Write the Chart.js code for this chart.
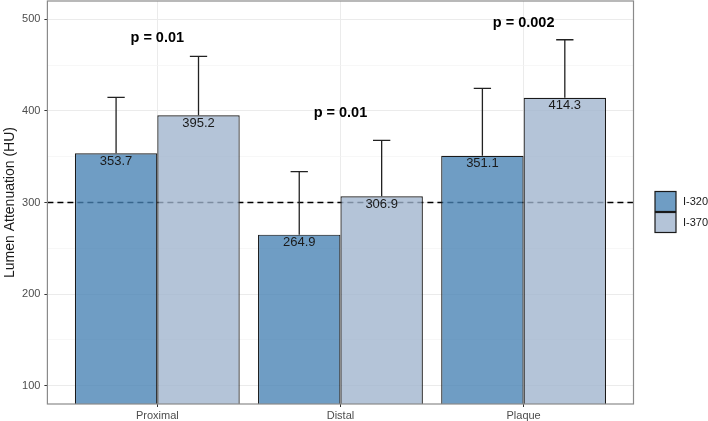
<!DOCTYPE html>
<html>
<head>
<meta charset="utf-8">
<script src="https://cdn.jsdelivr.net/npm/chart.js@4.4.1/dist/chart.umd.min.js"></script>
<style>
  html, body { margin: 0; padding: 0; background: #fff; }
  #chart { display: block; }
</style>
</head>
<body>
<canvas id="chart" width="708" height="421"></canvas>
<script>
const regions = ['Proximal', 'Distal', 'Plaque'];
const groups = ['I-320', 'I-370'];
const meanI320 = [353.7, 264.9, 351.1];
const meanI370 = [395.2, 306.9, 414.3];
const sdI320 = [61.1, 68.9, 73.5];
const sdI370 = [64.3, 60.9, 63.4];
const pLabels = ['p = 0.01', 'p = 0.01', 'p = 0.002'];
const pHeights = [480, 398, 496];
const yMajorTicks = [100, 200, 300, 400, 500];
const yMinorTicks = [150, 250, 350, 450];
const refLine = 300;

const FONT = '"Liberation Sans", Arial, sans-serif';
const fills = ['rgba(70, 130, 180, 0.78)', 'rgba(159, 179, 205, 0.78)'];
const series = [
  { label: groups[0], means: meanI320, sds: sdI320 },
  { label: groups[1], means: meanI370, sds: sdI370 },
];

const isMajor = ctx => ctx.tick && yMajorTicks.includes(ctx.tick.value);

const extras = {
  id: 'extras',
  beforeDatasetsDraw(chart) {
    const { ctx, chartArea: a, scales: { y } } = chart;
    const py = y.getPixelForValue(refLine);
    ctx.save();
    ctx.beginPath();
    ctx.setLineDash([6, 4]);
    ctx.strokeStyle = '#000';
    ctx.lineWidth = 1.4;
    ctx.moveTo(a.left, py);
    ctx.lineTo(a.right, py);
    ctx.stroke();
    ctx.restore();
  },
  afterDatasetsDraw(chart) {
    const { ctx, scales: { x, y } } = chart;
    ctx.save();
    chart.data.datasets.forEach((ds, i) => {
      chart.getDatasetMeta(i).data.forEach((bar, j) => {
        const mean = ds.data[j].y;
        const top = y.getPixelForValue(mean + ds.sd[j]);
        const half = bar.width * 0.105;
        ctx.strokeStyle = '#222';
        ctx.lineWidth = 1.3;
        ctx.beginPath();
        ctx.moveTo(bar.x, y.getPixelForValue(mean));
        ctx.lineTo(bar.x, top);
        ctx.moveTo(bar.x - half, top);
        ctx.lineTo(bar.x + half, top);
        ctx.stroke();

        ctx.fillStyle = '#1a1a1a';
        ctx.font = '13px ' + FONT;
        ctx.textAlign = 'center';
        ctx.textBaseline = 'middle';
        ctx.fillText(mean.toFixed(1), bar.x, y.getPixelForValue(mean) + 8);
      });
    });
    ctx.font = 'bold 14.5px ' + FONT;
    ctx.fillStyle = '#000';
    pLabels.forEach((txt, j) => {
      ctx.fillText(txt, x.getPixelForValue(j + 1), y.getPixelForValue(pHeights[j]));
    });
    ctx.restore();
  },
  afterDraw(chart) {
    const { ctx, chartArea: a } = chart;
    ctx.save();
    ctx.strokeStyle = '#8a8a8a';
    ctx.lineWidth = 1.2;
    ctx.strokeRect(a.left, a.top, a.right - a.left, a.bottom - a.top);

    const boxW = 21, boxH = 20;
    const left = a.right + 21.5;
    let top = chart.height / 2 - 19;
    ctx.font = '11px ' + FONT;
    ctx.textAlign = 'left';
    ctx.textBaseline = 'middle';
    groups.forEach((g, i) => {
      ctx.fillStyle = '#fff';
      ctx.fillRect(left, top, boxW, boxH);
      ctx.fillStyle = fills[i];
      ctx.fillRect(left, top, boxW, boxH);
      ctx.strokeStyle = '#1a1a1a';
      ctx.lineWidth = 1.2;
      ctx.strokeRect(left, top, boxW, boxH);
      ctx.fillStyle = '#1a1a1a';
      ctx.fillText(g, left + boxW + 7, top + boxH / 2);
      top += boxH + 1;
    });
    ctx.restore();
  },
};

Chart.defaults.font.family = FONT;

new Chart(document.getElementById('chart'), {
  type: 'bar',
  data: {
    datasets: series.map((s, i) => ({
      label: s.label,
      data: s.means.map((v, j) => ({ x: j + 1, y: v })),
      sd: s.sds,
      backgroundColor: fills[i],
      borderColor: '#1a1a1a',
      borderWidth: 1.2,
      categoryPercentage: 0.9,
      barPercentage: 1,
    })),
  },
  options: {
    responsive: false,
    animation: false,
    events: [],
    layout: { padding: { top: 1, right: 74.5, bottom: 0, left: 0 } },
    plugins: {
      legend: { display: false },
      tooltip: { enabled: false },
    },
    scales: {
      x: {
        type: 'linear',
        min: 0.4,
        max: 3.6,
        offset: false,
        afterBuildTicks: s => { s.ticks = regions.map((_, i) => ({ value: i + 1 })); },
        ticks: {
          callback: v => regions[Math.round(v) - 1],
          font: { size: 11 },
          color: '#4d4d4d',
          padding: 2,
          maxRotation: 0,
          autoSkip: false,
        },
        grid: { offset: false, color: '#ebebeb', lineWidth: 1, tickLength: 3, tickColor: '#333' },
        border: { display: false },
        afterFit: s => { s.height = 17; s.paddingLeft = 0; s.paddingRight = 0; },
      },
      y: {
        min: 80,
        max: 520,
        afterBuildTicks: s => {
          s.ticks = yMajorTicks.concat(yMinorTicks).sort((a, b) => a - b).map(v => ({ value: v }));
        },
        ticks: {
          callback: v => (yMajorTicks.includes(v) ? String(v) : ''),
          font: { size: 11 },
          color: '#4d4d4d',
          padding: 4,
          autoSkip: false,
        },
        grid: {
          color: ctx => (isMajor(ctx) ? '#ebebeb' : '#f3f3f3'),
          lineWidth: ctx => (isMajor(ctx) ? 1 : 0.7),
          tickLength: 3,
          tickColor: ctx => (isMajor(ctx) ? '#333' : 'rgba(0,0,0,0)'),
        },
        border: { display: false },
        title: {
          display: true,
          text: 'Lumen Attenuation (HU)',
          font: { size: 14 },
          color: '#1a1a1a',
          padding: { top: 2, bottom: 0 },
        },
        afterFit: s => { s.width = 47.4; s.paddingTop = 0; s.paddingBottom = 0; },
      },
    },
  },
  plugins: [extras],
});
</script>
</body>
</html>
